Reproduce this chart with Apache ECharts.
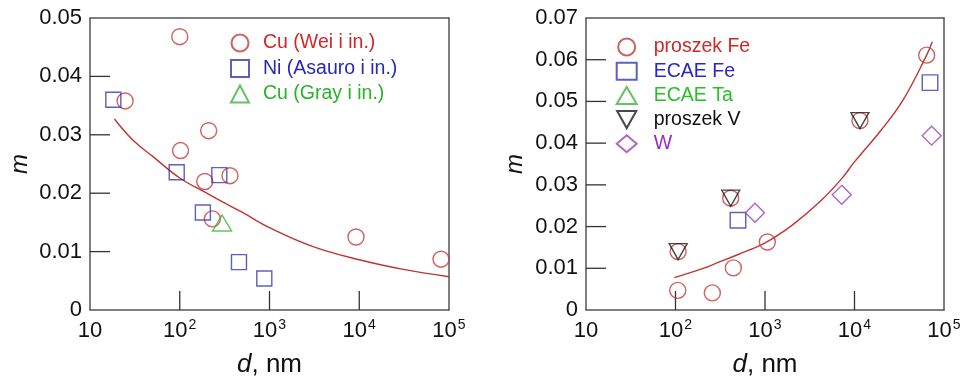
<!DOCTYPE html>
<html><head><meta charset="utf-8">
<script src="https://cdn.jsdelivr.net/npm/echarts@6/dist/echarts.min.js"></script>
<style>html,body{margin:0;padding:0;background:#fff}#c{width:967px;height:379px}</style>
</head><body><div id="c"></div>
<script>
// ---- Left panel data ----
const cuWeiD = [24.6, 100, 102, 210, 190, 363, 231, 9200, 81500];
const cuWeiM = [0.0358, 0.0468, 0.0273, 0.0307, 0.0220, 0.0230, 0.0156, 0.0125, 0.0087];
const niD = [18.2, 92.5, 276, 181, 457, 875];
const niM = [0.0360, 0.0236, 0.0231, 0.0167, 0.0082, 0.0054];
const cuGrayD = [296];
const cuGrayM = [0.0149];
const fitLeftD = [18.7, 30, 50, 100, 200, 300, 500, 1000, 3000, 10000, 30000, 100000];
const fitLeftM = [0.0327, 0.0291, 0.0263, 0.0226, 0.0200, 0.0185, 0.0167, 0.0141, 0.0109, 0.0086, 0.0070, 0.0057];
// ---- Right panel data ----
const feD = [106, 258, 443, 1062, 64000, 107, 414, 11500];
const feM = [0.0047, 0.0041, 0.0101, 0.0163, 0.0611, 0.0140, 0.0268, 0.0454];
const ecaeFeD = [499, 69800];
const ecaeFeM = [0.0215, 0.0545];
const ecaeTaD = [];
const ecaeTaM = [];
const vD = [107, 414, 11500];
const vM = [0.0140, 0.0268, 0.0454];
const wD = [773, 7200, 72800];
const wM = [0.0233, 0.0276, 0.0418];
const fitRightD = [97, 200, 300, 500, 1000, 2000, 4120, 7200, 10000, 20000, 34800, 64000, 74000];
const fitRightM = [0.00775, 0.0099, 0.0114, 0.0133, 0.0161, 0.0203, 0.0260, 0.0315, 0.0355, 0.0432, 0.0503, 0.0611, 0.0643];
// ---- Tick labels / tick positions ----
const xTickExp = [1, 2, 3, 4, 5];
const xInnerTicks = [100, 1000, 10000];
const yTickLeft = ['0', '0.01', '0.02', '0.03', '0.04', '0.05'];
const yTickRight = ['0', '0.01', '0.02', '0.03', '0.04', '0.05', '0.06', '0.07'];
const yInnerTicksLeft = [0.01, 0.02, 0.03, 0.04];
const yInnerTicksRight = [0.01, 0.02, 0.03, 0.04, 0.05, 0.06];

const FONT = 'Liberation Sans, Arial, sans-serif';
const zip = (a, b) => a.map((v, i) => [v, b[i]]);
const RED = '#c43a3a', BLUE = '#3636b4', GREEN = '#3cb43c', BLACK = '#1a1a1a', PURPLE = '#a03cb4';
const lineOf = () => ({ show: true, onZero: false, lineStyle: { color: '#555', width: 1.5 } });

function xAxis(gi) {
  return {
    type: 'log', logBase: 10, min: 10, max: 100000, gridIndex: gi, position: 'bottom',
    name: '{i|d}, nm', nameLocation: 'middle', nameGap: 42,
    nameTextStyle: { fontSize: 26, color: '#111', fontFamily: FONT,
      rich: { i: { fontStyle: 'italic', fontSize: 26, color: '#111', fontFamily: FONT } } },
    axisLine: lineOf(),
    axisTick: { show: false },
    minorTick: { show: false },
    splitLine: { show: false },
    axisLabel: {
      margin: 8, color: '#111', fontFamily: FONT, fontSize: 22,
      formatter: v => {
        const e = Math.round(Math.log10(v));
        if (!xTickExp.includes(e)) return '';
        return e === 1 ? '{b|10}' : '{b|10}{s|' + e + '}';
      },
      rich: {
        b: { fontSize: 22, color: '#111', fontFamily: FONT, lineHeight: 26 },
        s: { fontSize: 14, color: '#111', fontFamily: FONT, verticalAlign: 'top', lineHeight: 14, padding: [0, 0, 0, 1] }
      }
    }
  };
}
function xTop(gi) {
  return { type: 'log', logBase: 10, min: 10, max: 100000, gridIndex: gi, position: 'top',
    axisLine: lineOf(), axisTick: { show: false }, axisLabel: { show: false }, splitLine: { show: false } };
}
function yAxis(gi, max, labels, gap) {
  return {
    type: 'value', min: 0, max: max, interval: 0.01, gridIndex: gi, position: 'left',
    name: 'm', nameLocation: 'middle', nameGap: gap,
    nameTextStyle: { fontSize: 24, fontStyle: 'italic', color: '#111', fontFamily: FONT },
    axisLine: lineOf(),
    axisTick: { show: false },
    splitLine: { show: false },
    axisLabel: { margin: 8, color: '#111', fontSize: 22, fontFamily: FONT,
      formatter: (v) => labels[Math.round(v / 0.01)] }
  };
}
function yRight(gi, max) {
  return { type: 'value', min: 0, max: max, interval: 0.01, gridIndex: gi, position: 'right',
    axisLine: lineOf(), axisTick: { show: false }, axisLabel: { show: false }, splitLine: { show: false } };
}
// inward tick marks, positioned through the axes' own scales
function ticksY(vals, xi) {
  return {
    type: 'custom', xAxisIndex: xi, yAxisIndex: xi, silent: true, z: 1, clip: false,
    data: vals.map(v => [10, v]),
    renderItem: (params, api) => {
      const p = api.coord([api.value(0), api.value(1)]);
      return { type: 'line', shape: { x1: p[0], y1: p[1], x2: p[0] + 20, y2: p[1] },
        style: { stroke: '#333', lineWidth: 1.3 } };
    }
  };
}
function ticksX(vals, xi) {
  return {
    type: 'custom', xAxisIndex: xi, yAxisIndex: xi, silent: true, z: 1, clip: false,
    data: vals.map(v => [v, 0]),
    renderItem: (params, api) => {
      const p = api.coord([api.value(0), api.value(1)]);
      return { type: 'line', shape: { x1: p[0], y1: p[1], x2: p[0], y2: p[1] - 19 },
        style: { stroke: '#333', lineWidth: 1.3 } };
    }
  };
}
function sc(name, d, m, xi, color, symbol, size, rotate) {
  return {
    type: 'scatter', name: name, xAxisIndex: xi, yAxisIndex: xi,
    data: zip(d, m), symbol: symbol, symbolSize: size, symbolRotate: rotate || 0,
    itemStyle: { color: 'rgba(255,255,255,0)', borderColor: color, borderWidth: 1.4 },
    emphasis: { disabled: true }, z: 3
  };
}
function fit(d, m, xi) {
  return {
    type: 'line', xAxisIndex: xi, yAxisIndex: xi, data: zip(d, m), smooth: 0.4,
    showSymbol: false, symbol: 'none', lineStyle: { color: '#c03434', width: 1.4 }, z: 2, silent: true
  };
}
const chart = echarts.init(document.getElementById('c'));
chart.setOption({
  animation: false,
  backgroundColor: '#fff',
  grid: [
    { left: 90, top: 18, width: 359, height: 292, outerBoundsMode: 'none', containLabel: false },
    { left: 586, top: 18, width: 358, height: 292, outerBoundsMode: 'none', containLabel: false }
  ],
  xAxis: [xAxis(0), xAxis(1), xTop(0), xTop(1)],
  yAxis: [yAxis(0, 0.05, yTickLeft, 58), yAxis(1, 0.07, yTickRight, 59), yRight(0, 0.05), yRight(1, 0.07)],
  legend: [
    { orient: 'vertical', left: 225, top: 28, itemWidth: 18, itemHeight: 17, itemGap: 5.5,
      textStyle: { fontSize: 19.5, fontFamily: FONT, padding: [0, 0, 0, 9] },
      data: [
        { name: 'Cu (Wei i in.)', textStyle: { color: '#d02828' } },
        { name: 'Ni (Asauro i in.)', textStyle: { color: '#2828b8' } },
        { name: 'Cu (Gray i in.)', textStyle: { color: '#28b428' } }
      ] },
    { orient: 'vertical', left: 610.7, top: 32, itemWidth: 20, itemHeight: 17, itemGap: 4.2,
      textStyle: { fontSize: 19.5, fontFamily: FONT, padding: [0, 0, 0, 12] },
      data: [
        { name: 'proszek Fe', textStyle: { color: '#d02828' } },
        { name: 'ECAE Fe', textStyle: { color: '#2828c8' } },
        { name: 'ECAE Ta', textStyle: { color: '#28c028' } },
        { name: 'proszek V', icon: 'path://M0,0L18,0L9,16Z', textStyle: { color: '#111' } },
        { name: 'W', textStyle: { color: '#9a28c8' } }
      ] }
  ],
  series: [
    ticksY(yInnerTicksLeft, 0),
    ticksX(xInnerTicks, 0),
    ticksY(yInnerTicksRight, 1),
    ticksX(xInnerTicks, 1),
    fit(fitLeftD, fitLeftM, 0),
    sc('Cu (Wei i in.)', cuWeiD, cuWeiM, 0, RED, 'circle', 16),
    sc('Ni (Asauro i in.)', niD, niM, 0, BLUE, 'rect', 15),
    sc('Cu (Gray i in.)', cuGrayD, cuGrayM, 0, GREEN, 'triangle', [19, 16]),
    fit(fitRightD, fitRightM, 1),
    sc('proszek Fe', feD, feM, 1, RED, 'circle', 16),
    sc('ECAE Fe', ecaeFeD, ecaeFeM, 1, BLUE, 'rect', 15.5),
    sc('ECAE Ta', ecaeTaD, ecaeTaM, 1, GREEN, 'triangle', [19, 16]),
    sc('proszek V', vD, vM, 1, BLACK, 'triangle', [18, 16], 180),
    sc('W', wD, wM, 1, PURPLE, 'diamond', 19)
  ]
});
</script></body></html>
